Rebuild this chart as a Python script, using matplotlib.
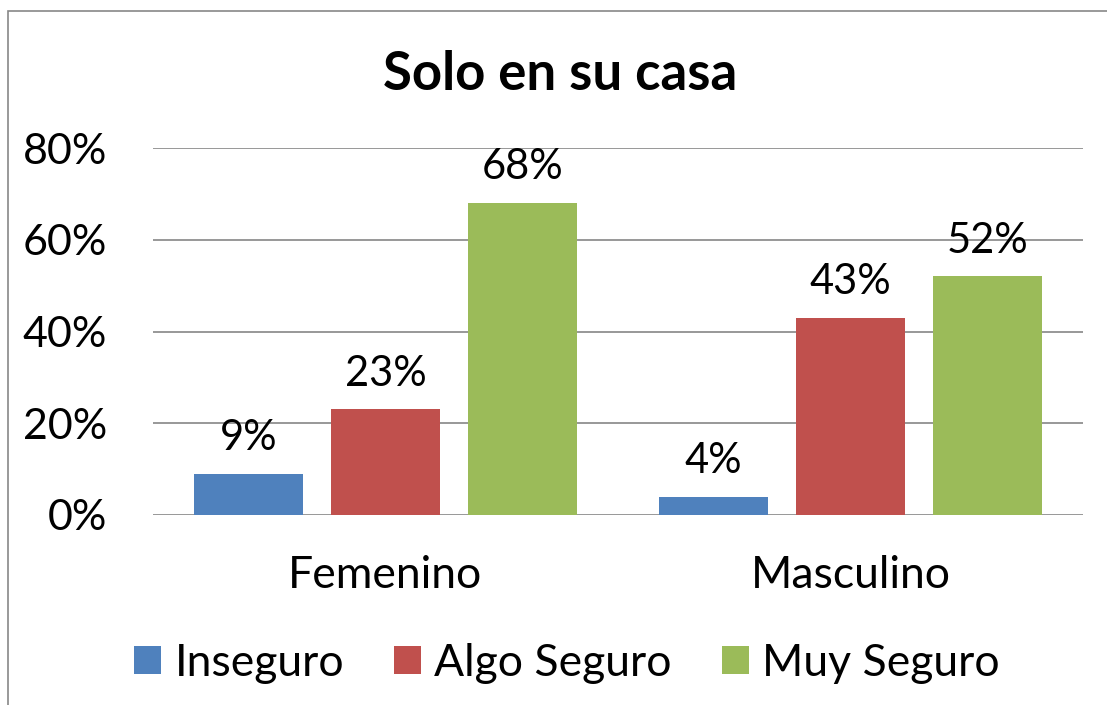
import matplotlib
matplotlib.use("Agg")
import matplotlib.pyplot as plt
from matplotlib.patches import Rectangle, Patch
from matplotlib.ticker import FuncFormatter
import numpy as np

plt.rcParams['font.family'] = ['Lato', 'DejaVu Sans']

title = "Solo en su casa"
categories = ["Femenino", "Masculino"]
series_names = ["Inseguro", "Algo Seguro", "Muy Seguro"]
inseguro = [0.09, 0.04]
algo_seguro = [0.23, 0.43]
muy_seguro = [0.68, 0.52]
y_ticks = [0.0, 0.2, 0.4, 0.6, 0.8]
colors = ["#4F81BD", "#C0504D", "#9BBB59"]

W, H = 1107, 705
fig = plt.figure(figsize=(W / 100, H / 100), dpi=100)
fig.patch.set_facecolor("white")

# chart border (cropped on right/bottom like the reference)
fig.patches.append(Rectangle((8 / W, -0.05), 1.2, 1 - 11 / H + 0.05,
                             transform=fig.transFigure, fill=False,
                             edgecolor="#878787", linewidth=1.2))

ax = fig.add_axes([153 / W, 1 - 515 / H, (1083 - 153) / W, (515 - 148) / H])

x = np.arange(len(categories))
width = 0.234
step = 0.295
all_series = [inseguro, algo_seguro, muy_seguro]
for i, (vals, name, c) in enumerate(zip(all_series, series_names, colors)):
    bars = ax.bar(x + (i - 1) * step, vals, width=width, color=c, label=name, zorder=3)
    for b, v in zip(bars, vals):
        ax.annotate(f"{round(v * 100):d}%", (b.get_x() + b.get_width() / 2, v),
                    xytext=(0, 12), textcoords="offset points",
                    ha="center", va="bottom", fontsize=30, color="black")

ax.set_xlim(-0.5, len(categories) - 0.5)
ax.set_ylim(0, 0.8)
ax.set_yticks(y_ticks)
ax.yaxis.set_major_formatter(FuncFormatter(lambda v, p: f"{v * 100:.0f}%"))
ax.set_xticks(x)
ax.set_xticklabels(categories)
ax.grid(axis="y", color="#868686", linewidth=1.2, zorder=0)
for s in ax.spines.values():
    s.set_visible(False)
ax.tick_params(axis="y", length=0, pad=33, labelsize=31)
ax.tick_params(axis="x", length=0, pad=29, labelsize=32)

fig.text(560 / W, 1 - 75 / H, title, ha="center", va="center",
         fontsize=38, fontweight="bold")

handles = [Patch(facecolor=c, edgecolor="none") for c in colors]
fig.legend(handles, series_names, loc="center", bbox_to_anchor=(567 / W, 1 - 663 / H),
           ncol=3, frameon=False, fontsize=32, handlelength=0.61, handleheight=0.61,
           handletextpad=0.3, columnspacing=1.12, borderpad=0, borderaxespad=0)

fig.savefig("out.png", dpi=100, facecolor="white")
